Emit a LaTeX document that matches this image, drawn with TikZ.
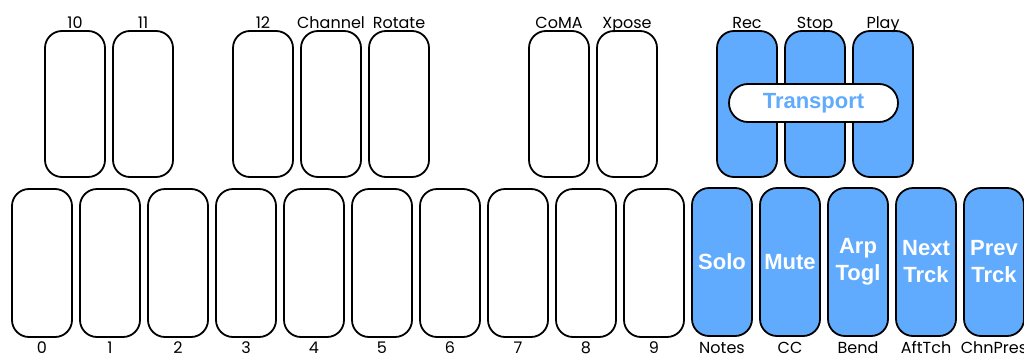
\documentclass[tikz,border=0pt]{standalone}
\usepackage{fontspec}
\setmainfont{Liberation Sans}
\newfontfamily\lblfont{Poppins}
\newfontfamily\keyfnt{Liberation Sans}
\definecolor{keyblue}{RGB}{96,171,253}
\tikzset{
  keybox/.style={draw=black, line width=1.8pt, rounded corners=17pt, minimum width=60pt, inner sep=0pt},
  lowkey/.style={keybox, minimum height=148pt},
  highkey/.style={keybox, minimum height=146pt},
  bluekey/.style={fill=keyblue, text=white, align=center,
     font=\keyfnt\bfseries\fontsize{22}{27}\selectfont},
  toplbl/.style={anchor=base, font=\lblfont\fontsize{16}{18}\selectfont, inner sep=0pt},
  botlbl/.style={anchor=base, font=\lblfont\fontsize{16}{18}\selectfont, inner sep=0pt, text depth=0pt},
  pill/.style={draw=black, line width=1.8pt, fill=white, rounded corners=19pt,
     minimum width=169pt, minimum height=38pt, inner sep=0pt, text=keyblue,
     font=\keyfnt\bfseries\fontsize{22}{27}\selectfont}
}
\begin{document}
\begin{tikzpicture}[x=1pt,y=-1pt]
\useasboundingbox (0,0) rectangle (1024,356);
% bottom row
\foreach \i/\lab in {0/0,1/1,2/2,3/3,4/4,5/5,6/6,7/7,8/8,9/9}{
  \node[lowkey] (b\i) at ({42+68*\i},263) {};
  \node[botlbl] (bl\i) at ({42+68*\i},353) {\lab};
}
\node[lowkey,bluekey] (b10) at (722,262) {Solo};
\node[lowkey,bluekey] (b11) at (790,262) {Mute};
\node[lowkey,bluekey] (b12) at (858,262) {Arp\\Togl};
\node[lowkey,bluekey] (b13) at (926,262) {Next\\Trck};
\node[lowkey,bluekey] (b14) at (994,262) {Prev\\Trck};
\node[botlbl] (bl10) at (722,353) {Notes};
\node[botlbl] (bl11) at (790,353) {CC};
\node[botlbl] (bl12) at (858,353) {Bend};
\node[botlbl] (bl13) at (926,353) {AftTch};
\node[botlbl] (bl14) at (994,353) {ChnPres};
% top row
\foreach \n/\x/\lab in {t10/75/10,t11/143/11,t12/263/12,tch/331/Channel,tro/399/Rotate,tco/559/CoMA,txp/627/Xpose}{
  \node[highkey] (\n) at (\x,104) {};
  \node[toplbl] (\n l) at (\x,28) {\lab};
}
\foreach \n/\x/\lab in {trec/747/Rec,tstop/815/Stop,tplay/883/Play}{
  \node[highkey,fill=keyblue] (\n) at (\x,104) {};
  \node[toplbl] (\n l) at (\x,28) {\lab};
}
\node[pill] (transport) at (813.5,103) {Transport};
\end{tikzpicture}
\end{document}
